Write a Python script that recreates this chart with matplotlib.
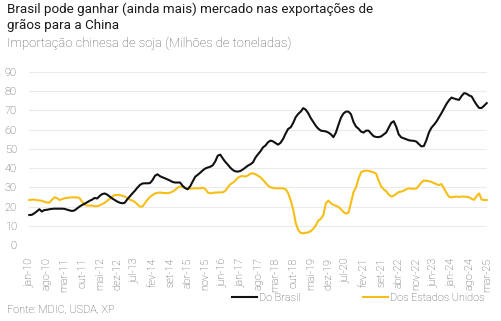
import matplotlib
matplotlib.use("Agg")
import matplotlib.pyplot as plt
from matplotlib.lines import Line2D
import pandas as pd

months = pd.date_range("2010-01-01", "2025-03-01", freq="MS")
pt_months = ["jan", "fev", "mar", "abr", "mai", "jun", "jul", "ago", "set", "out", "nov", "dez"]

brasil = [15.6, 15.7, 16.5, 17.5, 18.6, 17.4, 18.2, 18.3, 18.6, 18.8, 18.9, 18.9,
          18.9, 18.9, 18.8, 18.4, 18.0, 17.7, 18.0, 19.0, 20.0, 20.8, 21.5, 22.2,
          23.0, 23.6, 24.5, 24.2, 25.5, 26.5, 26.8, 26.2, 25.2, 24.2, 23.4, 22.6,
          22.0, 21.7, 22.0, 23.8, 25.3, 26.8, 28.2, 29.8, 31.2, 32.0, 32.1, 32.1,
          32.2, 33.7, 36.0, 36.8, 35.8, 35.2, 34.7, 34.1, 33.5, 32.8, 32.5, 32.5,
          32.5, 30.8, 29.6, 29.0, 30.5, 33.0, 35.5, 36.5, 37.6, 38.8, 39.8, 40.3,
          40.7, 41.5, 43.5, 46.5, 47.0, 45.0, 43.2, 41.8, 40.2, 39.0, 38.3, 38.2,
          38.5, 39.3, 40.3, 41.3, 42.0, 43.0, 45.5, 47.2, 48.8, 50.8, 51.8, 53.5,
          54.3, 53.9, 53.0, 52.2, 53.2, 55.2, 58.0, 60.4, 61.2, 63.5, 66.5, 68.2,
          69.4, 71.2, 70.4, 68.5, 66.0, 64.0, 62.0, 60.5, 59.5, 59.3, 59.1, 58.5,
          57.6, 56.1, 58.5, 62.5, 66.2, 68.4, 69.4, 69.4, 68.0, 64.0, 61.6, 60.5,
          59.0, 58.5, 59.5, 59.5, 58.0, 56.6, 56.2, 56.1, 56.5, 57.5, 58.5, 61.0,
          63.5, 64.4, 61.5, 57.5, 56.0, 55.5, 55.0, 54.5, 54.3, 54.2, 53.8, 52.5,
          51.3, 51.5, 54.5, 58.5, 61.0, 62.5, 64.2, 66.4, 68.6, 71.0, 73.4, 75.3,
          76.7, 76.2, 75.8, 75.5, 77.5, 79.0, 78.7, 77.8, 77.3, 75.0, 72.9, 71.3,
          71.3, 72.5, 73.8]

eua = [23.4, 23.6, 23.6, 23.3, 23.2, 23.0, 22.5, 22.1, 22.0, 23.5, 24.8, 24.4,
       23.4, 23.8, 24.3, 24.5, 24.7, 24.8, 24.8, 24.8, 24.4, 22.5, 21.0, 20.5,
       20.5, 20.5, 20.2, 20.2, 20.6, 21.3, 22.0, 23.0, 24.0, 25.2, 26.0, 26.0,
       26.0, 25.6, 25.2, 24.4, 23.6, 23.1, 22.4, 21.2, 20.0, 20.0, 21.8, 23.5,
       25.0, 26.0, 26.8, 27.1, 27.3, 27.1, 27.0, 27.0, 27.2, 27.8, 28.6, 29.8,
       30.4, 30.1, 29.8, 29.2, 29.3, 29.4, 29.5, 29.5, 29.5, 29.8, 29.2, 27.3,
       26.9, 27.1, 27.3, 27.3, 27.4, 27.4, 28.2, 30.0, 31.6, 32.4, 33.6, 35.0,
       35.7, 35.9, 35.6, 36.2, 37.1, 37.3, 36.8, 36.0, 35.2, 33.8, 32.4, 30.9,
       30.0, 29.7, 29.5, 29.5, 29.5, 29.5, 29.0, 27.0, 23.2, 18.5, 11.5, 7.8,
       6.3, 6.1, 6.3, 6.6, 7.2, 8.4, 10.2, 12.7, 13.6, 15.6, 21.7, 23.1,
       21.8, 20.9, 20.4, 19.8, 18.6, 17.2, 16.3, 16.8, 22.0, 27.5, 30.0, 34.5,
       37.8, 38.5, 38.7, 38.5, 38.2, 37.8, 37.1, 33.5, 30.5, 29.0, 28.0, 26.2,
       25.3, 25.6, 26.6, 27.5, 27.8, 28.3, 29.0, 29.5, 29.3, 29.2, 29.4, 30.8,
       32.5, 33.5, 33.4, 33.2, 32.8, 32.3, 31.6, 31.2, 31.7, 29.5, 27.0, 25.1,
       24.8, 25.1, 25.2, 25.0, 25.2, 25.2, 25.0, 24.8, 24.0, 23.5, 25.5, 26.8,
       23.6, 23.4, 23.4]

yticks = [0, 10, 20, 30, 40, 50, 60, 70, 80, 90]
title = "Brasil pode ganhar (ainda mais) mercado nas exportações de\ngrãos para a China"
subtitle = "Importação chinesa de soja (Milhões de toneladas)"
source = "Fonte: MDIC, USDA, XP"
labels = ["Do Brasil", "Dos Estados Unidos"]
colors = ["#111111", "#F7BE16"]

plt.rcParams['font.family'] = ['Roboto', 'DejaVu Sans']

W, H = 501, 321
fig = plt.figure(figsize=(W / 100, H / 100), dpi=100)
fig.patch.set_facecolor("white")

x = list(range(len(months)))
ax = fig.add_axes([29.3 / W, (H - 245) / H, (486.7 - 29.3) / W, (245 - 72) / H])
ax.plot(x, eua, color=colors[1], lw=1.5, clip_on=False, zorder=3)
ax.plot(x, brasil, color=colors[0], lw=1.5, clip_on=False, zorder=4)

ax.set_xlim(0, len(months) - 1)
ax.set_ylim(0, 90)
ax.set_yticks(yticks)
ax.yaxis.grid(True, color="#EBEBEB", lw=0.8)
ax.set_axisbelow(True)
for s in ax.spines.values():
    s.set_visible(False)

txt = "#4f4f4f"
tick_idx = list(range(0, len(months), 7))
ax.set_xticks(tick_idx)
ax.set_xticklabels([f"{pt_months[months[i].month - 1]}-{months[i].year % 100:02d}" for i in tick_idx],
                   rotation=90, fontsize=7.8, color=txt, fontweight="light")
for t in ax.get_yticklabels():
    t.set_fontweight("light")
ax.tick_params(axis="x", length=0, pad=9)
ax.tick_params(axis="y", length=0, pad=9, labelsize=8.0, labelcolor=txt)

fig.text(7 / W, 1 - 3 / H, title, ha="left", va="top", fontsize=9.6, color="#1a1a1a",
         linespacing=1.25)
fig.text(7 / W, 1 - 37 / H, subtitle, ha="left", va="top", fontsize=9.4, color="#555555",
         fontweight="light")
fig.text(7 / W, 1 - 310 / H, source, ha="left", va="center", fontsize=7.8, color=txt,
         fontweight="light")

handles = [Line2D([], [], color=c, lw=1.5) for c in colors]
leg = fig.legend(handles, labels, loc="center left", bbox_to_anchor=(228 / W, 1 - 298 / H),
                 ncol=2, frameon=False, handlelength=2.3, handletextpad=0.2,
                 columnspacing=5.7, borderaxespad=0, prop={"weight": "light", "size": 7.8})
for t in leg.get_texts():
    t.set_color(txt)

fig.savefig("out.png", dpi=100, facecolor="white")
